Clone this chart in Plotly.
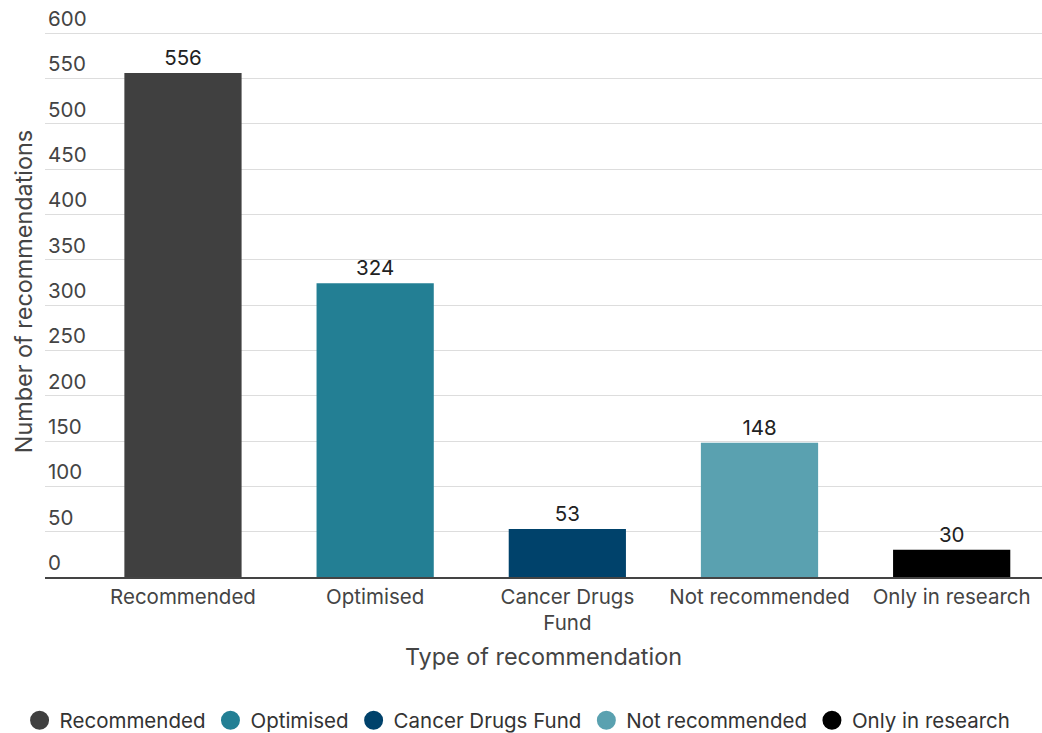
import plotly.graph_objects as go

categories = ["Recommended", "Optimised", "Cancer Drugs<br>Fund", "Not recommended", "Only in research"]
legend_names = ["Recommended", "Optimised", "Cancer Drugs Fund", "Not recommended", "Only in research"]
counts = [556, 324, 53, 148, 30]
colors = ["#404040", "#237f94", "#00426b", "#5aa1b0", "#000000"]
y_ticks = [0, 50, 100, 150, 200, 250, 300, 350, 400, 450, 500, 550, 600]

FONT = "Inter, Roboto, sans-serif"
TICK_SIZE = 20.5
TITLE_SIZE = 23.4

fig = go.Figure()
for cat, val, col in zip(categories, counts, colors):
    fig.add_trace(go.Bar(
        x=[cat], y=[val],
        marker=dict(color=col, line=dict(width=0)),
        width=0.61,
        text=[val], textposition="outside",
        textfont=dict(size=TICK_SIZE, color="#222222", family=FONT),
        cliponaxis=False, showlegend=False, hoverinfo="x+y",
    ))

# circular legend keys, one per category
for name, col in zip(legend_names, colors):
    fig.add_trace(go.Scatter(
        x=[None], y=[None], mode="markers", name=name,
        marker=dict(symbol="circle", size=20, color=col, line=dict(width=3, color=col)),
        showlegend=True,
    ))

fig.update_layout(
    width=1042, height=733,
    margin=dict(l=45, r=0, t=6, b=156, autoexpand=False),
    barmode="overlay",
    paper_bgcolor="white", plot_bgcolor="white",
    font=dict(family=FONT, color="#444444", size=TICK_SIZE),
    showlegend=True,
    legend=dict(
        orientation="h", x=0.474, xanchor="center", y=-0.216, yanchor="top",
        font=dict(size=TICK_SIZE, color="#333333"),
        traceorder="normal",
    ),
    xaxis=dict(
        categoryorder="array", categoryarray=categories,
        range=[-0.718, 4.47],
        showgrid=False, showline=True, linecolor="#444444", linewidth=2,
        ticks="", tickfont=dict(size=TICK_SIZE, color="#444444"),
        title=dict(text="Type of recommendation", font=dict(size=TITLE_SIZE, color="#444444"), standoff=14),
    ),
    yaxis=dict(
        range=[0, 630], tickvals=y_ticks,
        ticklabelposition="inside top",
        tickfont=dict(size=TICK_SIZE, color="#444444"),
        showgrid=True, gridcolor="#dddddd", gridwidth=1,
        zeroline=False, showline=False, ticks="",
        title=dict(text="Number of recommendations", font=dict(size=TITLE_SIZE, color="#444444"), standoff=8),
    ),
)

fig.write_html("out.html")
